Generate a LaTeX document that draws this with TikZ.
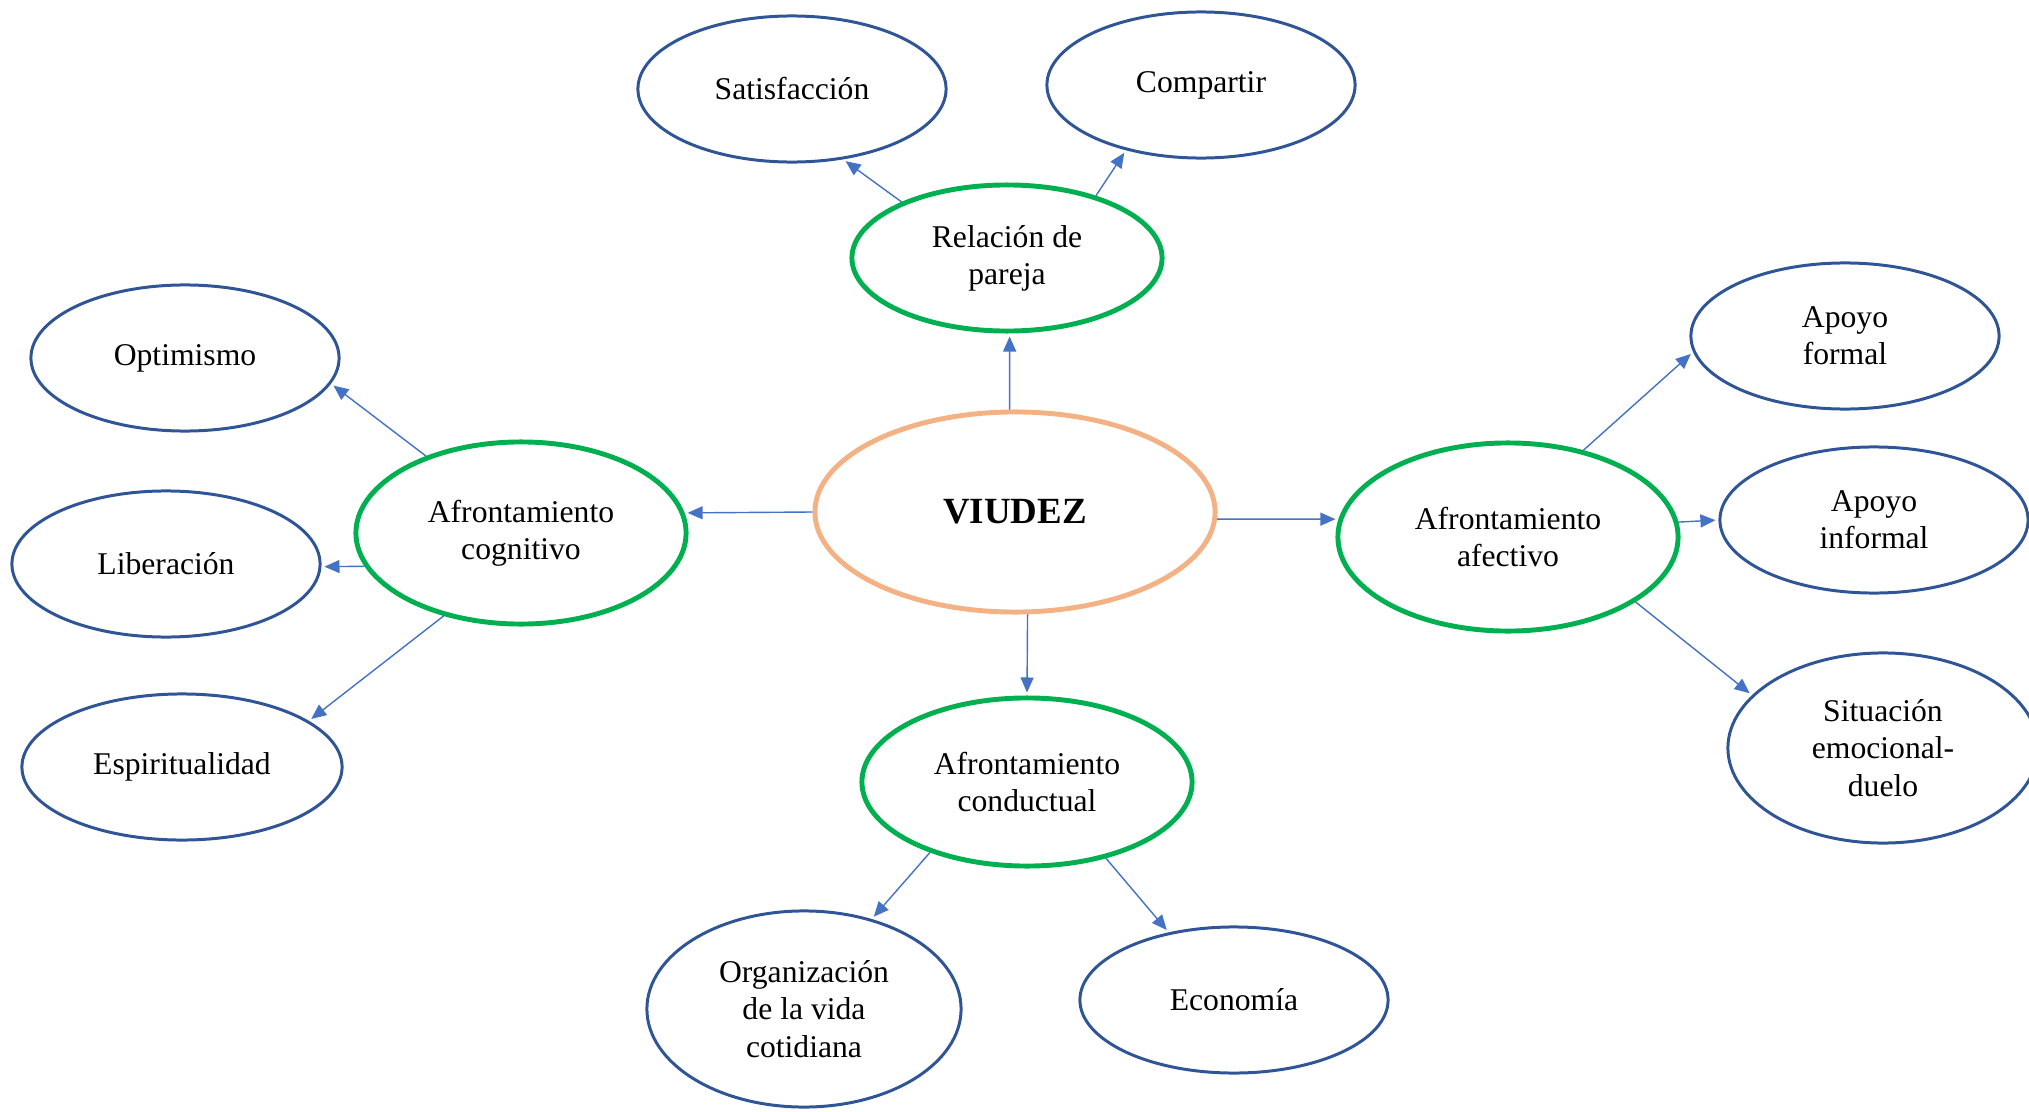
\documentclass[tikz,border=0pt]{standalone}
\usepackage{fontspec}
\setmainfont{Liberation Serif}
\usetikzlibrary{arrows.meta,shapes.geometric}

\definecolor{leafblue}{HTML}{2F5597}
\definecolor{hubgreen}{HTML}{00B050}
\definecolor{coreorange}{HTML}{F4B183}
\definecolor{arrblue}{HTML}{4472C4}

\begin{document}
\begin{tikzpicture}[
  x=0.01cm, y=-0.01cm,
  leaf/.style={ellipse, draw=leafblue, line width=0.85pt, align=center, inner sep=0pt,
               font=\fontsize{9}{10.6}\selectfont, minimum width=3.08cm, minimum height=1.46cm},
  hub/.style={ellipse, draw=hubgreen, line width=1.4pt, align=center, inner sep=0pt,
              font=\fontsize{9}{10.6}\selectfont},
  core/.style={ellipse, draw=coreorange, line width=1.4pt, inner sep=0pt,
               font=\fontsize{10.5}{12}\selectfont\bfseries, minimum width=4cm, minimum height=2cm},
  arr/.style={-{Triangle[length=1.5mm, width=1.3mm]}, draw=arrblue, fill=arrblue,
              line width=0.4pt, shorten >=0.03cm}
]
\clip (0,0) rectangle (2029,1112);

\node[core] (vi) at (1015,512) {VIUDEZ};

\node[hub, minimum width=3.10cm, minimum height=1.46cm] (rel)  at (1007,258) {Relación de\\pareja};
\node[hub, minimum width=3.30cm, minimum height=1.82cm] (cog)  at (521,533)  {Afrontamiento\\cognitivo};
\node[hub, minimum width=3.40cm, minimum height=1.88cm] (aff)  at (1508,537) {Afrontamiento\\afectivo};
\node[hub, minimum width=3.30cm, minimum height=1.68cm] (cond) at (1027,782) {Afrontamiento\\conductual};

\node[leaf] (sat)  at (792,89)   {Satisfacción};
\node[leaf] (comp) at (1201,85)  {Compartir};
\node[leaf] (opt)  at (185,358)  {Optimismo};
\node[leaf] (lib)  at (166,564)  {Liberación};
\node[leaf, minimum width=3.20cm] (esp) at (182,767) {Espiritualidad};
\node[leaf] (af)   at (1845,336) {Apoyo\\formal};
\node[leaf] (ai)   at (1874,520) {Apoyo\\informal};
\node[leaf, minimum width=3.10cm, minimum height=1.90cm] (sit) at (1883,748) {Situación\\emocional-\\duelo};
\node[leaf, minimum width=3.14cm, minimum height=1.96cm] (org) at (804,1009) {Organización\\de la vida\\cotidiana};
\node[leaf] (eco)  at (1234,1000) {Economía};

% from the centre
\draw[arr] (vi.93)   -- (rel.-88);
\draw[arr] (vi.180)  -- (cog.7);
\draw[arr] (vi.-2)   -- (aff.174);
\draw[arr] (vi.-83)  -- (cond.90);

% second level
\draw[arr] (rel.152)  -- (sat.-54);
\draw[arr] (rel.35)   -- (comp.-139);
\draw[arr] (cog.141)  -- (opt.-10);
\draw[arr] (cog.192)  -- (lib.-1);
\draw[arr] (cog.-133) -- (esp.20);
\draw[arr] (aff.49)   -- (af.186);
\draw[arr] (aff.5)    -- (ai.180);
\draw[arr] (aff.-27)  -- (sit.158);
\draw[arr] (cond.-144) -- (org.53);
\draw[arr] (cond.-44)  -- (eco.134);
\end{tikzpicture}
\end{document}
